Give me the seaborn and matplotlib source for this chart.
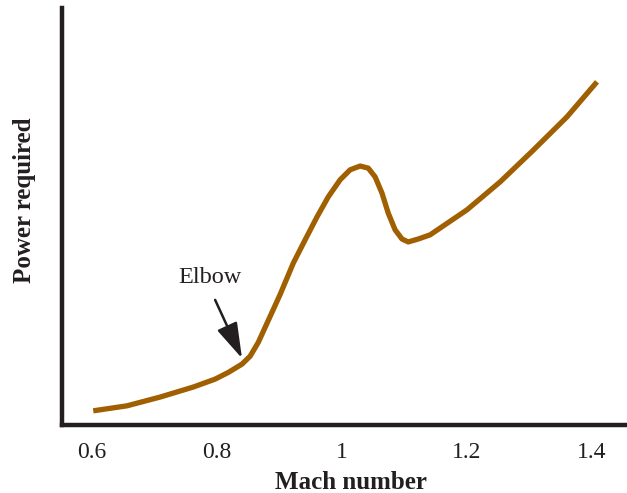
import numpy as np
import pandas as pd
import matplotlib
matplotlib.use("Agg")
import matplotlib.pyplot as plt
import seaborn as sns
from matplotlib.ticker import MultipleLocator

# values (power in arbitrary units)
mach = [0.602, 0.656, 0.709, 0.762, 0.797, 0.818, 0.840, 0.853, 0.866, 0.880,
        0.901, 0.922, 0.941, 0.960, 0.978, 0.997, 1.013, 1.029, 1.042, 1.053,
        1.064, 1.074, 1.085, 1.096, 1.106, 1.122, 1.141, 1.200, 1.253, 1.306,
        1.360, 1.408]
power = [3.4, 4.6, 6.7, 9.1, 11.0, 12.6, 14.6, 16.5, 19.8, 24.4,
         31.3, 38.8, 44.4, 49.9, 54.7, 58.8, 61.2, 62.1, 61.6, 59.5,
         55.6, 50.8, 46.8, 44.6, 43.9, 44.6, 45.6, 51.6, 58.3, 65.9,
         73.9, 82.3]
tick_pos = [0.6, 0.8, 1.0, 1.2, 1.4]
tick_labels = ["0.6", "0.8", "1", "1.2", "1.4"]
elbow_tip = (0.840, 16.0)
elbow_tail = (0.797, 30.0)
elbow_text = (0.789, 35.3)

df = pd.DataFrame({"mach": mach, "power": power})

sns.set_style("white")
plt.rcParams["font.family"] = ["Liberation Serif", "DejaVu Serif"]

ink = "#231f20"
fig = plt.figure(figsize=(6.27, 4.93), dpi=100)
ax = fig.add_axes([62 / 627, 68 / 493, 1 - 62 / 627, 417 / 493])

sns.lineplot(data=df, x="mach", y="power", ax=ax, color="#a05f00",
             linewidth=3.8, sort=False, solid_capstyle="butt",
             solid_joinstyle="round")

ax.set_xlim(0.552, 1.456)
ax.set_ylim(0, 100)
sns.despine(ax=ax)
for side in ["left", "bottom"]:
    ax.spines[side].set_linewidth(3.2)
    ax.spines[side].set_color(ink)

ax.set_xticks(tick_pos)
ax.set_xticklabels(tick_labels, fontsize=17)
ax.xaxis.set_minor_locator(MultipleLocator(0.1))
ax.tick_params(axis="x", which="both", direction="in", length=6, width=1.8,
               color=ink, labelcolor=ink, pad=12)
ax.set_yticks([])

ax.set_xlabel("Mach number", fontsize=18, fontweight="bold", color=ink, labelpad=6)
ax.set_ylabel("Power required", fontsize=18, fontweight="bold", color=ink, labelpad=19)
ax.xaxis.label.set_x(0.511)
ax.yaxis.label.set_y(0.54)

# elbow callout
ax.text(*elbow_text, "Elbow", ha="center", va="center", fontsize=17.5, color=ink)
ax.annotate("", xy=elbow_tip, xytext=elbow_tail,
            arrowprops=dict(arrowstyle="-|>,head_length=1.25,head_width=0.38",
                            lw=1.8, color=ink, shrinkA=0, shrinkB=0,
                            mutation_scale=17.5))

fig.savefig("out.png", dpi=100)
